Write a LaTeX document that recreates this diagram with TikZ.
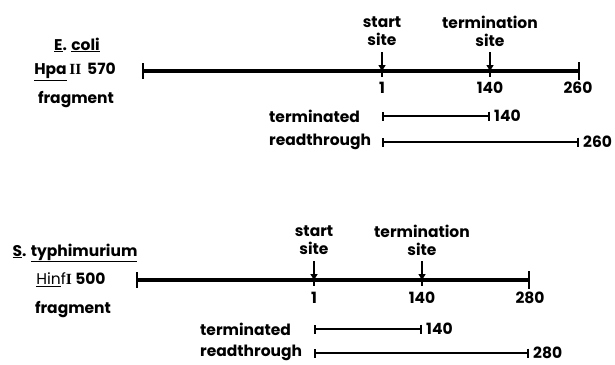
\documentclass[tikz,border=0pt]{standalone}
\usepackage{fontspec}
\setmainfont{Poppins}
\newfontfamily\romf{Liberation Serif}
\usetikzlibrary{arrows.meta}
\tikzset{
  lbl/.style={font=\bfseries\fontsize{15.5}{18}\selectfont, inner sep=0pt},
  mainline/.style={line width=3.2pt},
  subline/.style={line width=1.6pt, {Bar[width=9pt,line width=1.6pt]}-{Bar[width=9pt,line width=1.6pt]}},
  tick/.style={line width=2pt},
  siteArrow/.style={line width=1.6pt, -{Triangle[width=7pt,length=6pt]}},
}
\begin{document}
\begin{tikzpicture}[x=1pt,y=-1pt]
\useasboundingbox (0,0) rectangle (615,364);
% ===== top =====
\node[lbl] (ecoli) at (77,45) {\underline{E}. \underline{coli}};
\node[lbl] (hpa) at (75,72) {\underline{Hpa}\,{\romf II}\, 570};
\node[lbl] (frag1) at (76,100) {fragment};
\coordinate (a0) at (143,71);
\coordinate (a1) at (382,71);
\coordinate (a2) at (490,71);
\coordinate (a3) at (579,71);
\draw[mainline] (a0) -- (a3);
\draw[tick] (143,63) -- (143,79);
\draw[tick] (579,62) -- (579,80);
\draw[tick] (382,65) -- (382,77);
\draw[tick] (490,65) -- (490,77);
\node[lbl, align=center] (start1) at (382,31) {start\\site};
\node[lbl, align=center] (term1) at (490,31) {termination\\site};
\draw[siteArrow] (382,52) -- (a1);
\draw[siteArrow] (490,52) -- (a2);
\node[lbl] (n1a) at (382,88) {1};
\node[lbl] (n140a) at (490,88) {140};
\node[lbl] (n260a) at (578,88) {260};
\node[lbl, anchor=west] (termA) at (269,116) {terminated};
\node[lbl, anchor=west] (readA) at (269,142) {readthrough};
\coordinate (t1s) at (382,116); \coordinate (t1e) at (490,116);
\coordinate (r1s) at (382,142); \coordinate (r1e) at (579,142);
\draw[subline] (t1s) -- (t1e);
\draw[subline] (r1s) -- (r1e);
\node[lbl, anchor=west] (t1l) at (494,116) {140};
\node[lbl, anchor=west] (r1l) at (583,142) {260};
% ===== bottom =====
\node[lbl] (styph) at (75,253) {\underline{S}. \underline{typhimurium}};
\node[lbl] (hinf) at (71,280) {{\mdseries\underline{Hin}f}{\romf I} 500};
\node[lbl] (frag2) at (73,310) {fragment};
\coordinate (b0) at (137,280);
\coordinate (b1) at (314,280);
\coordinate (b2) at (422,280);
\coordinate (b3) at (529,280);
\draw[mainline] (b0) -- (b3);
\draw[tick] (137,272) -- (137,288);
\draw[tick] (529,271) -- (529,289);
\draw[tick] (314,274) -- (314,286);
\draw[tick] (422,274) -- (422,286);
\node[lbl, align=center] (start2) at (314,240) {start\\site};
\node[lbl, align=center] (term2) at (422,240) {termination\\site};
\draw[siteArrow] (314,261) -- (b1);
\draw[siteArrow] (422,261) -- (b2);
\node[lbl] (n1b) at (314,298) {1};
\node[lbl] (n140b) at (422,298) {140};
\node[lbl] (n280b) at (530,298) {280};
\node[lbl, anchor=west] (termB) at (200,329) {terminated};
\node[lbl, anchor=west] (readB) at (200,353) {readthrough};
\coordinate (t2s) at (314,329); \coordinate (t2e) at (422,329);
\coordinate (r2s) at (314,353); \coordinate (r2e) at (529,353);
\draw[subline] (t2s) -- (t2e);
\draw[subline] (r2s) -- (r2e);
\node[lbl, anchor=west] (t2l) at (426,329) {140};
\node[lbl, anchor=west] (r2l) at (533,353) {280};
\end{tikzpicture}
\end{document}
